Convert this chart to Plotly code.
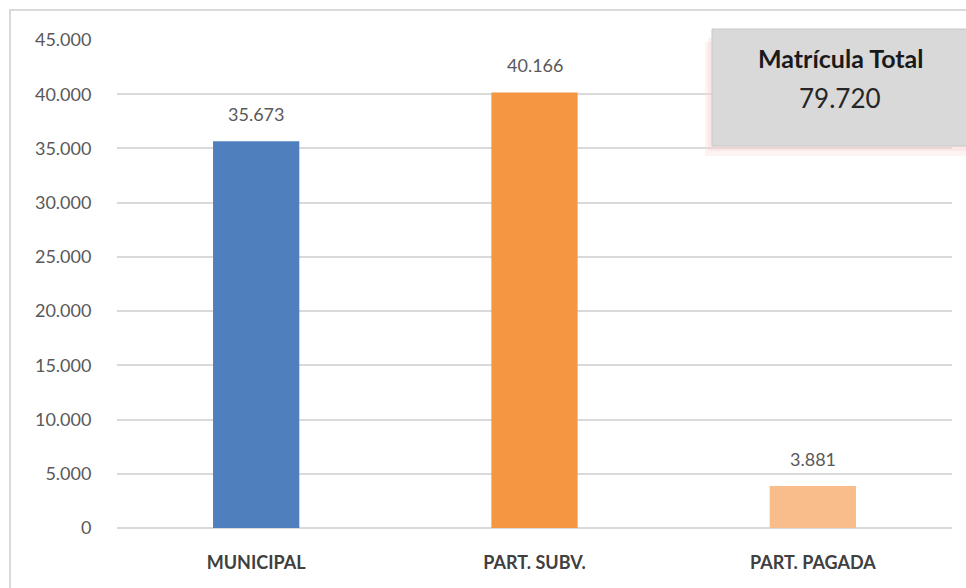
import plotly.graph_objects as go

categories = ["MUNICIPAL", "PART. SUBV.", "PART. PAGADA"]
values = [35673, 40166, 3881]
value_labels = ["35.673", "40.166", "3.881"]
bar_colors = ["#4f7fbd", "#f49642", "#f9bd8c"]
total_label = "Matrícula Total"
total_value = "79.720"
y_ticks = [0, 5000, 10000, 15000, 20000, 25000, 30000, 35000, 40000, 45000]

FONT = "Lato, Open Sans, sans-serif"

fig = go.Figure()
fig.add_trace(go.Bar(
    x=categories, y=values,
    marker=dict(color=bar_colors, line=dict(width=0)),
    width=0.31,
    showlegend=False,
    hoverinfo="x+y",
))

W, H = 966, 588
L, R, T, B = 117, 14, 40, 60
pw, ph = W - L - R, H - T - B

def px(x):
    return (x - L) / pw

def py(y):
    return (H - B - y) / ph

shapes = [
    # outer frame
    dict(type="rect", xref="paper", yref="paper", x0=px(10), x1=px(990), y0=py(610), y1=py(10),
         line=dict(color="#d9d9d9", width=2), fillcolor="rgba(0,0,0,0)", layer="below"),
    # soft shadow
    dict(type="rect", xref="paper", yref="paper", x0=px(705), x1=px(990), y0=py(156), y1=py(42),
         line=dict(width=0), fillcolor="rgba(248,220,220,0.35)"),
    dict(type="rect", xref="paper", yref="paper", x0=px(708), x1=px(990), y0=py(151), y1=py(38),
         line=dict(width=0), fillcolor="rgba(244,210,210,0.3)"),
    # box
    dict(type="rect", xref="paper", yref="paper", x0=px(712), x1=px(990), y0=py(146), y1=py(29),
         line=dict(color="#c8c8c8", width=1), fillcolor="#d9d9d9"),
]

annotations = [
    dict(text="<b>" + total_label + "</b>", xref="paper", yref="paper", x=px(840), y=py(58),
         xanchor="center", yanchor="middle",
         showarrow=False, font=dict(family=FONT, size=25, color="#1a1a1a")),
    dict(text=total_value, xref="paper", yref="paper", x=px(840), y=py(98),
         xanchor="center", yanchor="middle",
         showarrow=False, font=dict(family=FONT, size=26, color="#262626")),
]
for c, v, t in zip(categories, values, value_labels):
    annotations.append(dict(
        text=t, x=c, y=v, xref="x", yref="y", showarrow=False,
        xanchor="center", yanchor="middle", yshift=27,
        font=dict(family=FONT, size=18, color="#595959"),
    ))

fig.update_layout(
    width=W, height=H,
    margin=dict(l=L, r=R, t=T, b=B, autoexpand=False),
    paper_bgcolor="white", plot_bgcolor="white",
    separators=",.",
    shapes=shapes, annotations=annotations,
    xaxis=dict(
        tickfont=dict(family=FONT, size=18, color="#404040", weight="bold"),
        showline=False, showgrid=False, ticks="outside", ticklen=18,
        tickcolor="rgba(0,0,0,0)", tickangle=0, automargin=False,
    ),
    yaxis=dict(
        range=[0, 45000], tickvals=y_ticks, tickformat=",.0f",
        tickfont=dict(family=FONT, size=18, color="#595959"),
        showgrid=True, gridcolor="#d9d9d9", gridwidth=1.5,
        zeroline=True, zerolinecolor="#d9d9d9", zerolinewidth=1.5,
        showline=False, ticks="outside", ticklen=21, tickcolor="rgba(0,0,0,0)",
        automargin=False,
    ),
)

fig.write_html("out.html", config={"displayModeBar": False},
               post_script="document.body.style.margin='0';")
